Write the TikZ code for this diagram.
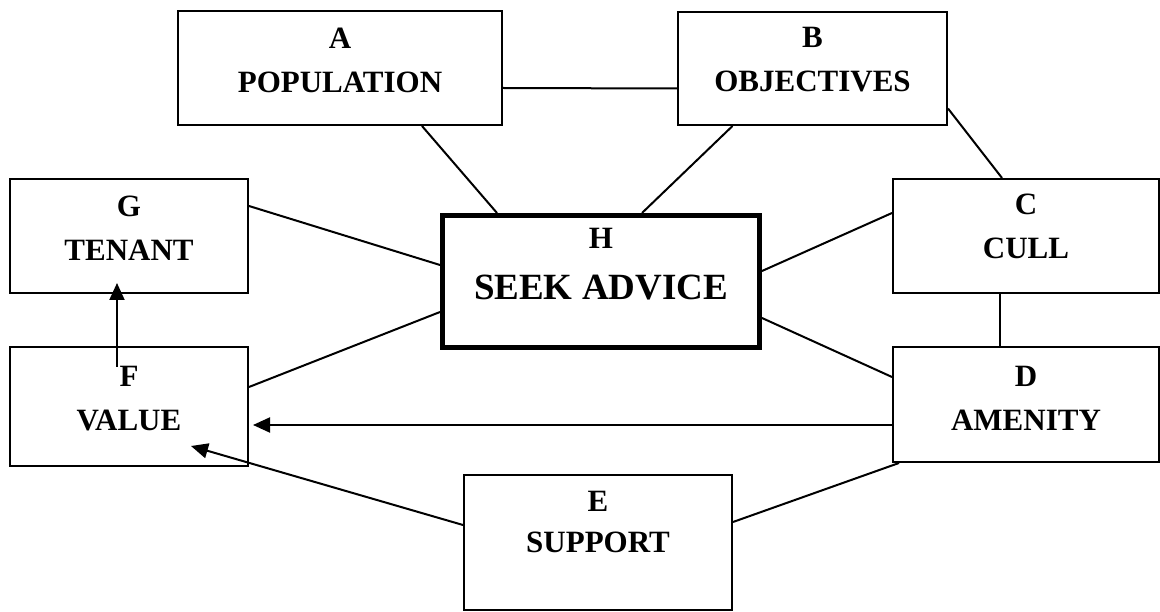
\documentclass[tikz,border=0pt]{standalone}
\usepackage{fontspec}
\setmainfont{Liberation Serif}
\usepackage{tikz}
\usetikzlibrary{arrows.meta, positioning, calc}

\begin{document}
\begin{tikzpicture}[x=1pt, y=-1pt,
  box/.style={draw, line width=2pt, inner sep=0pt},
  mainbox/.style={draw, line width=5pt, inner sep=0pt},
  boxtext/.style={font=\fontsize{31}{44}\selectfont\bfseries, align=center, inner sep=0pt},
  link/.style={line width=2pt},
  arrow/.style={line width=2pt, -{Triangle[length=17pt, width=15pt]}}]
  \useasboundingbox (0,0) rectangle (1160,612);

  % boxes
  \node[box, minimum width=324pt, minimum height=114pt] (A) at (340,68) {};
  \node[box, minimum width=269pt, minimum height=113pt] (B) at (812.5,68.5) {};
  \node[box, minimum width=238pt, minimum height=114pt] (G) at (129,236) {};
  \node[box, minimum width=266pt, minimum height=114pt] (C) at (1026,236) {};
  \node[mainbox, minimum width=317pt, minimum height=132pt] (H) at (601,281.5) {};
  \node[box, minimum width=238pt, minimum height=119pt] (F) at (129,406.5) {};
  \node[box, minimum width=266pt, minimum height=115pt] (D) at (1026,404.5) {};
  \node[box, minimum width=268pt, minimum height=135pt] (E) at (598,542.5) {};

  % texts
  \node[boxtext, below=18pt of A.north] (A-txt) {A\\POPULATION};
  \node[boxtext, below=16pt of B.north] (B-txt) {B\\OBJECTIVES};
  \node[boxtext, below=18pt of G.north] (G-txt) {G\\TENANT};
  \node[boxtext, below=16pt of C.north] (C-txt) {C\\CULL};
  \node[boxtext, below=15pt of H.north] (H-txt) {H\\[7pt]{\fontsize{37}{44}\selectfont SEEK ADVICE}};
  \node[boxtext, below=20pt of F.north] (F-txt) {F\\VALUE};
  \node[boxtext, below=20pt of D.north] (D-txt) {D\\AMENITY};
  \node[boxtext, below=17pt of E.north, font=\fontsize{31}{41}\selectfont\bfseries] (E-txt) {E\\SUPPORT};

  % links
  \draw[link] ([yshift=-20pt]A.east) -- ([yshift=-20pt]B.west);
  \draw[link] ([xshift=82pt]A.south) -- ([xshift=-104pt]H.north);
  \draw[link] ([xshift=-80pt]B.south) -- ([xshift=41pt]H.north);
  \draw[link] ([yshift=-40pt]B.east) -- ([xshift=-24pt]C.north);
  \draw[link] ([yshift=30pt]G.east) -- ([yshift=16.5pt]H.west);
  \draw[link] ([yshift=-30.5pt]H.west) -- ([yshift=19.5pt]F.east);
  \draw[link] ([yshift=10.5pt]H.east) -- ([yshift=23pt]C.west);
  \draw[link] ([yshift=-36.5pt]H.east) -- ([yshift=27.5pt]D.west);
  \draw[link] ([xshift=-26pt]C.south) -- ([xshift=-26pt]D.north);
  \draw[link] ([xshift=7pt]D.south west) -- ([yshift=20.5pt]E.east);

  % arrows
  \draw[arrow] ([yshift=-20.5pt]D.west) -- ([xshift=4pt,yshift=-18.5pt]F.east);
  \draw[arrow] ([yshift=17.5pt]E.west) -- ([xshift=-58pt,yshift=21pt]F.south east);
  \draw[arrow] ([xshift=-12pt,yshift=-21pt]F.north) -- ([xshift=-12pt,yshift=11pt]G.south);
\end{tikzpicture}
\end{document}
